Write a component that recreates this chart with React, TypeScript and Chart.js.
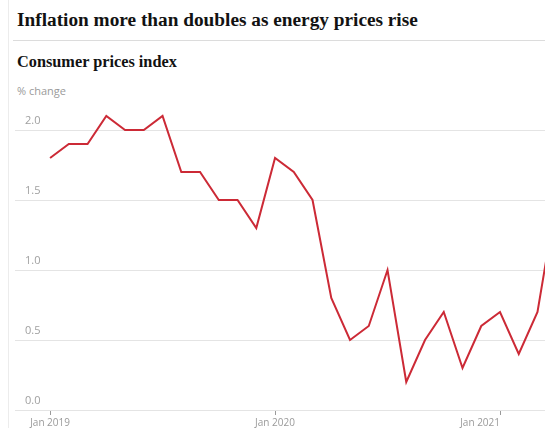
import React, { useEffect, useRef } from "react";
import { Chart, registerables } from "chart.js";

Chart.register(...registerables);

const months = [
  "Jan 2019", "Feb 2019", "Mar 2019", "Apr 2019", "May 2019", "Jun 2019",
  "Jul 2019", "Aug 2019", "Sep 2019", "Oct 2019", "Nov 2019", "Dec 2019",
  "Jan 2020", "Feb 2020", "Mar 2020", "Apr 2020", "May 2020", "Jun 2020",
  "Jul 2020", "Aug 2020", "Sep 2020", "Oct 2020", "Nov 2020", "Dec 2020",
  "Jan 2021", "Feb 2021", "Mar 2021", "Apr 2021",
];
const cpi = [
  1.8, 1.9, 1.9, 2.1, 2.0, 2.0, 2.1, 1.7, 1.7, 1.5, 1.5, 1.3,
  1.8, 1.7, 1.5, 0.8, 0.5, 0.6, 1.0, 0.2, 0.5, 0.7, 0.3, 0.6,
  0.7, 0.4, 0.7, 1.5,
];
const xTickIndex = [0, 12, 24];
const xTickLabels = ["Jan 2019", "Jan 2020", "Jan 2021"];
const yTicks = [0, 0.5, 1.0, 1.5, 2.0];

const lastLabelRight = {
  id: "lastLabelRight",
  beforeDraw(chart: any) {
    const s = chart.scales.x;
    const items = s.getLabelItems();
    if (items && items.length) {
      items[items.length - 1].options.textAlign = "right";
    }
  },
};

export default function App() {
  const ref = useRef<HTMLCanvasElement | null>(null);

  useEffect(() => {
    document.body.style.margin = "0";
    const ctx = ref.current!;
    const chart = new Chart(ctx, {
      type: "line",
      data: {
        labels: months,
        datasets: [
          {
            label: "Consumer prices index",
            data: cpi.map((v, i) => ({ x: i, y: v })),
            borderColor: "#cc2a36",
            borderWidth: 2,
            pointRadius: 0,
            tension: 0,
            fill: false,
          },
        ],
      },
      options: {
        animation: false,
        responsive: false,
        maintainAspectRatio: false,
        layout: { padding: { left: 15, right: 0, top: 6, bottom: 0 } },
        plugins: { legend: { display: false }, tooltip: { enabled: false } },
        scales: {
          x: {
            type: "linear",
            min: -1.87,
            max: 26.4,
            afterBuildTicks: (s: any) => {
              s.ticks = xTickIndex.map((v) => ({ value: v }));
            },
            afterFit: (s: any) => {
              s.height = 18;
              s.paddingLeft = 0;
              s.paddingRight = 0;
            },
            ticks: {
              autoSkip: false,
              maxRotation: 0,
              padding: 2,
              color: "#9a9a9a",
              font: { family: "'Open Sans'", size: 10 },
              callback: (value: any) => {
                const k = xTickIndex.indexOf(Number(value));
                return k >= 0 ? xTickLabels[k] : "";
              },
            },
            grid: {
              drawOnChartArea: false,
              drawTicks: true,
              tickLength: 5,
              color: "#9a9a9a",
            },
            border: { display: false },
          },
          y: {
            min: 0,
            max: 2.2,
            afterBuildTicks: (s: any) => {
              s.ticks = yTicks.map((v) => ({ value: v }));
            },
            afterFit: (s: any) => {
              s.width = 0;
              s.paddingTop = 0;
              s.paddingBottom = 0;
            },
            ticks: {
              mirror: true,
              padding: 10,
              labelOffset: -9,
              color: "#a0a0a0",
              font: { family: "'Open Sans'", size: 11 },
              callback: (value: any) => Number(value).toFixed(1),
            },
            grid: { drawTicks: false, color: "#e4e4e4", lineWidth: 1 },
            border: { display: false },
          },
        },
      },
      plugins: [lastLabelRight],
    });
    return () => chart.destroy();
  }, []);

  return (
    <div
      style={{
        position: "relative",
        width: 545,
        height: 428,
        overflow: "hidden",
        background: "#fff",
      }}
    >
      <div
        style={{
          position: "absolute",
          left: 8,
          top: 0,
          width: 1,
          height: 428,
          background: "#ececec",
        }}
      />
      <div
        style={{
          position: "absolute",
          left: 17,
          top: 10,
          fontFamily: "'Liberation Serif'",
          fontWeight: 700,
          fontSize: 19.3,
          lineHeight: "20px",
          color: "#121212",
          whiteSpace: "nowrap",
        }}
      >
        Inflation more than doubles as energy prices rise
      </div>
      <div
        style={{
          position: "absolute",
          left: 13,
          top: 40,
          width: 532,
          height: 1,
          background: "#dcdcdc",
        }}
      />
      <div
        style={{
          position: "absolute",
          left: 17,
          top: 52.5,
          fontFamily: "'Liberation Serif'",
          fontWeight: 700,
          fontSize: 16.3,
          lineHeight: "18px",
          color: "#121212",
          whiteSpace: "nowrap",
        }}
      >
        Consumer prices index
      </div>
      <div
        style={{
          position: "absolute",
          left: 17,
          top: 85,
          fontFamily: "'Open Sans'",
          fontSize: 11,
          lineHeight: "12px",
          color: "#9a9a9a",
          whiteSpace: "nowrap",
        }}
      >
        % change
      </div>
      <canvas
        ref={ref}
        width={545}
        height={332}
        style={{ position: "absolute", left: 0, top: 96, width: 545, height: 332 }}
      />
    </div>
  );
}
